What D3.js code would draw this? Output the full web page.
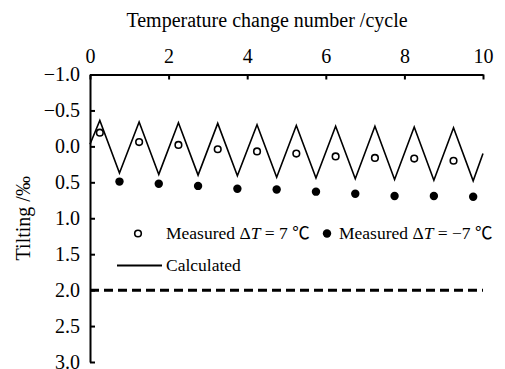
<!DOCTYPE html>
<html>
<head>
<meta charset="utf-8">
<script src="https://cdn.jsdelivr.net/npm/d3@7"></script>
<style>
  html, body { margin: 0; padding: 0; background: #fff; }
  svg { display: block; }
  svg text { font-family: "Liberation Serif", "Times New Roman", Times, "DejaVu Serif", serif; }
  svg text tspan.unit { font-family: "Noto Sans CJK SC", "Noto Sans CJK JP", sans-serif; }
</style>
</head>
<body>
<svg id="chart" width="505" height="369"></svg>
<script>
// Cycle positions of the calculated tilting curve (start, alternating heating / cooling extremes, end)
const calcCycle = [0, 0.25, 0.75, 1.25, 1.75, 2.25, 2.75, 3.25, 3.75, 4.25, 4.75,
                   5.25, 5.75, 6.25, 6.75, 7.25, 7.75, 8.25, 8.75, 9.25, 9.75, 10];
const calcTilt  = [-0.03, -0.36, 0.37, -0.34, 0.39, -0.33, 0.40, -0.32, 0.41, -0.30, 0.43,
                   -0.29, 0.44, -0.28, 0.45, -0.28, 0.46, -0.27, 0.47, -0.26, 0.48, 0.10];

// Measured tilting after heating (ΔT = 7 ℃)
const heatCycle = [0.25, 1.25, 2.25, 3.25, 4.25, 5.25, 6.25, 7.25, 8.25, 9.25];
const heatTilt  = [-0.19, -0.06, -0.02, 0.04, 0.07, 0.10, 0.14, 0.16, 0.17, 0.20];

// Measured tilting after cooling (ΔT = −7 ℃)
const coolCycle = [0.75, 1.75, 2.75, 3.75, 4.75, 5.75, 6.75, 7.75, 8.75, 9.75];
const coolTilt  = [0.49, 0.52, 0.55, 0.59, 0.60, 0.63, 0.66, 0.69, 0.69, 0.70];

// Allowable tilting limit
const limitTilt = 2.0;

const xTicks = [0, 2, 4, 6, 8, 10];
const yTicks = [-1, -0.5, 0, 0.5, 1, 1.5, 2, 2.5, 3];

const svg = d3.select("#chart");
const x = d3.scaleLinear().domain([0, 10]).range([90, 483]);
const y = d3.scaleLinear().domain([-1, 3]).range([74.5, 362]);

// Top axis (cycle number)
const gx = svg.append("g")
  .attr("transform", `translate(0,${y(-1)})`)
  .call(d3.axisTop(x).tickValues(xTicks).tickSizeInner(-5).tickSizeOuter(0).tickPadding(12));
gx.attr("font-family", null);
gx.select(".domain").attr("stroke-width", 2);
gx.selectAll(".tick line").attr("stroke-width", 2);
gx.selectAll(".tick text").attr("font-size", 20).attr("fill", "#000");

// Left axis (tilting), reversed so negative values are on top
const gy = svg.append("g")
  .attr("transform", `translate(${x(0)},0)`)
  .call(d3.axisLeft(y).tickValues(yTicks).tickSizeInner(-5).tickSizeOuter(0)
    .tickPadding(10).tickFormat(d3.format(".1f")));
gy.attr("font-family", null);
gy.select(".domain").attr("stroke-width", 2);
gy.selectAll(".tick line").attr("stroke-width", 2);
gy.selectAll(".tick text").attr("font-size", 20).attr("fill", "#000");

// Axis titles
svg.append("text")
  .attr("x", 267).attr("y", 27)
  .attr("text-anchor", "middle").attr("font-size", 20)
  .text("Temperature change number /cycle");

svg.append("text")
  .attr("transform", `translate(30,${(y(-1) + y(3)) / 2}) rotate(-90)`)
  .attr("text-anchor", "middle").attr("font-size", 20)
  .text("Tilting /‰");

// Limit line
svg.append("line")
  .attr("x1", x(0)).attr("x2", x(10))
  .attr("y1", y(limitTilt)).attr("y2", y(limitTilt))
  .attr("stroke", "#000").attr("stroke-width", 3)
  .attr("stroke-dasharray", "9,5");

// Calculated curve
const line = d3.line().x(d => x(d[0])).y(d => y(d[1]));
svg.append("path")
  .datum(calcCycle.map((c, i) => [c, calcTilt[i]]))
  .attr("d", line)
  .attr("fill", "none").attr("stroke", "#000").attr("stroke-width", 1.6)
  .attr("stroke-linejoin", "miter");

// Measured points
svg.append("g").selectAll("circle")
  .data(heatCycle.map((c, i) => [c, heatTilt[i]]))
  .join("circle")
  .attr("cx", d => x(d[0])).attr("cy", d => y(d[1])).attr("r", 3.3)
  .attr("fill", "#fff").attr("stroke", "#000").attr("stroke-width", 1.6);

svg.append("g").selectAll("circle")
  .data(coolCycle.map((c, i) => [c, coolTilt[i]]))
  .join("circle")
  .attr("cx", d => x(d[0])).attr("cy", d => y(d[1])).attr("r", 4.2)
  .attr("fill", "#000");

// Legend
const legend = svg.append("g").attr("font-size", 17.5);
legend.append("circle").attr("cx", 138).attr("cy", 233.5).attr("r", 3.3)
  .attr("fill", "#fff").attr("stroke", "#000").attr("stroke-width", 1.6);
const t1 = legend.append("text").attr("x", 166).attr("y", 239);
t1.append("tspan").text("Measured Δ");
t1.append("tspan").attr("font-style", "italic").text("T");
t1.append("tspan").text(" = 7 ");
t1.append("tspan").attr("class", "unit").text("℃");

legend.append("circle").attr("cx", 327).attr("cy", 233.5).attr("r", 4.2).attr("fill", "#000");
const t2 = legend.append("text").attr("x", 339).attr("y", 239);
t2.append("tspan").text("Measured Δ");
t2.append("tspan").attr("font-style", "italic").text("T");
t2.append("tspan").text(" = −7 ");
t2.append("tspan").attr("class", "unit").text("℃");

legend.append("line").attr("x1", 117).attr("x2", 162).attr("y1", 265.5).attr("y2", 265.5)
  .attr("stroke", "#000").attr("stroke-width", 2);
legend.append("text").attr("x", 166).attr("y", 271).text("Calculated");
</script>
</body>
</html>
